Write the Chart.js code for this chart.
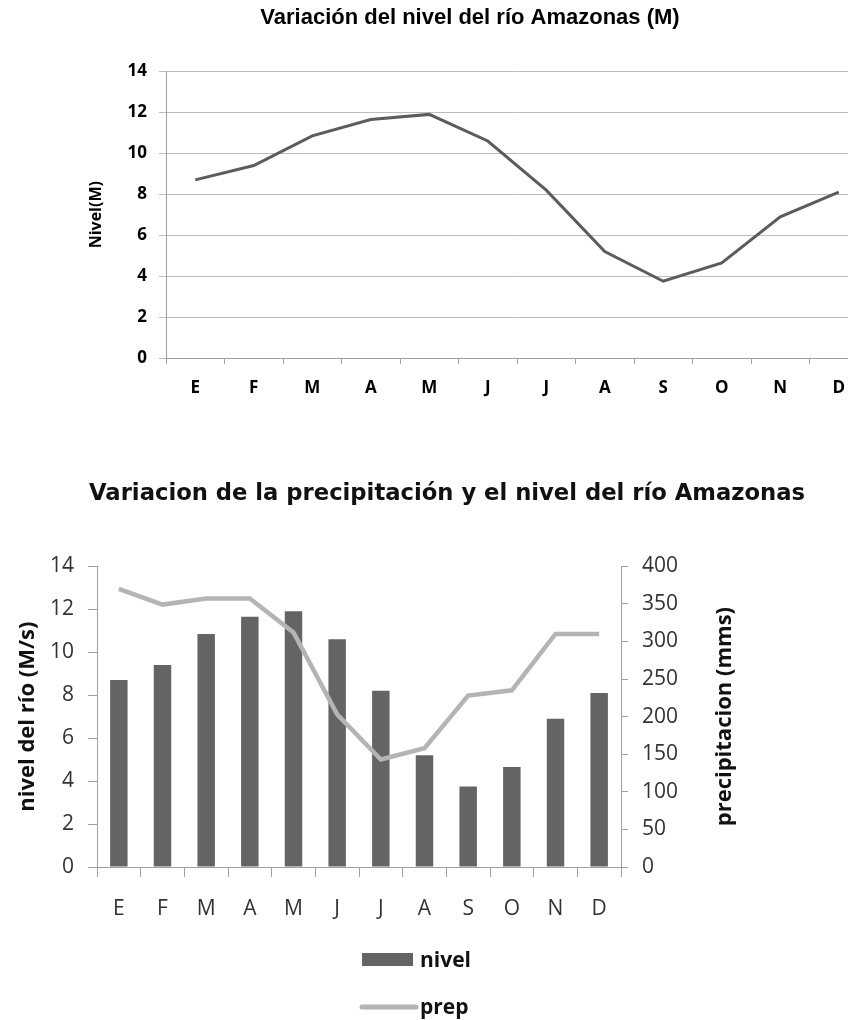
<!DOCTYPE html>
<html>
<head>
<meta charset="utf-8">
<script src="https://cdn.jsdelivr.net/npm/chart.js@4/dist/chart.umd.min.js"></script>
<style>
  html, body { margin: 0; padding: 0; background: #fff; overflow: hidden; }
  #page { position: relative; width: 848px; height: 1020px; overflow: hidden; }
  #nivelChart { position: absolute; left: 0; top: 0; }
  #precipChart { position: absolute; left: 0; top: 420px; }
</style>
</head>
<body>
<div id="page">
  <canvas id="nivelChart" width="940" height="420"></canvas>
  <canvas id="precipChart" width="894" height="600"></canvas>
</div>
<script>
// Months (Spanish initials)
const months = ['E', 'F', 'M', 'A', 'M', 'J', 'J', 'A', 'S', 'O', 'N', 'D'];
// River level (M)
const nivel = [8.7, 9.4, 10.85, 11.65, 11.9, 10.6, 8.2, 5.2, 3.75, 4.65, 6.9, 8.1];
// Precipitation (mms)
const prep = [370, 349, 357, 357, 312, 203, 143, 158, 228, 235, 310, 310];
// Axis tick values
const nivelTicks = [0, 2, 4, 6, 8, 10, 12, 14];
const prepTicks = [0, 50, 100, 150, 200, 250, 300, 350, 400];

const topTitle = 'Variación del nivel del río Amazonas (M)';
const bottomTitle = 'Variacion de la precipitación y el nivel del río Amazonas';

const openSans = "'Open Sans', sans-serif";
const axisGray = '#a0a0a0';

const setTicks = values => scale => {
  scale.ticks = values.map(v => ({ value: v }));
};

// Top chart: line of river level (canvas is wider than the page, the plot runs off the right edge)
new Chart(document.getElementById('nivelChart'), {
  type: 'line',
  data: {
    labels: months,
    datasets: [{
      label: 'nivel',
      data: nivel,
      borderColor: '#5c5c5c',
      borderWidth: 3,
      pointRadius: 0,
      tension: 0
    }]
  },
  options: {
    responsive: false,
    animation: false,
    layout: { padding: 0 },
    plugins: {
      legend: { display: false },
      tooltip: { enabled: false },
      title: {
        display: true,
        text: topTitle,
        color: '#000',
        font: { family: "'Liberation Sans', Arial, sans-serif", size: 22, weight: 'bold' },
        padding: { top: 5, bottom: 40 }
      }
    },
    scales: {
      x: {
        offset: true,
        grid: { offset: true, drawOnChartArea: false, tickLength: 6, color: axisGray },
        border: { color: axisGray },
        ticks: { padding: 14, color: '#000', font: { family: openSans, size: 17, weight: 'bold' } },
        afterFit: s => { s.height = 62; }
      },
      y: {
        min: 0,
        max: 14,
        afterBuildTicks: setTicks(nivelTicks),
        grid: { color: '#bdbdbd', tickLength: 7 },
        border: { color: axisGray },
        ticks: { padding: 12, color: '#000', font: { family: openSans, size: 17, weight: 'bold' } },
        title: {
          display: true,
          text: 'Nivel(M)',
          color: '#000',
          font: { family: openSans, size: 16, weight: 'bold' },
          padding: { top: 87, bottom: 0 }
        },
        afterFit: s => { s.width = 166; }
      },
      // empty spacer on the right, keeps the title centred where the original has it
      spacer: {
        position: 'right',
        ticks: { display: false },
        grid: { display: false },
        border: { display: false },
        afterFit: s => { s.width = 72; }
      }
    }
  }
});

// Right axis title (reads bottom to top) and stacked legend
const extras = {
  id: 'extras',
  afterDraw(chart) {
    const { ctx, chartArea } = chart;
    const right = chart.scales.y1;
    ctx.save();
    ctx.fillStyle = '#111';
    ctx.font = "bold 22px 'Open Sans', sans-serif";
    ctx.textAlign = 'center';
    ctx.textBaseline = 'middle';
    ctx.translate(chartArea.right + 104, (chartArea.top + chartArea.bottom) / 2);
    ctx.rotate(-Math.PI / 2);
    ctx.fillText(right.options.extraTitle, 0, 0);
    ctx.restore();

    const [barSet, lineSet] = chart.data.datasets;
    const lx = (chartArea.left + chartArea.right) / 2 + 3;
    const tx = lx + 58;
    ctx.save();
    ctx.fillStyle = barSet.backgroundColor;
    ctx.fillRect(lx, 533, 51, 13);
    ctx.strokeStyle = lineSet.borderColor;
    ctx.lineWidth = 5;
    ctx.lineCap = 'round';
    ctx.beginPath();
    ctx.moveTo(lx, 587);
    ctx.lineTo(lx + 54, 587);
    ctx.stroke();
    ctx.fillStyle = '#111';
    ctx.font = "bold 21px 'Open Sans', sans-serif";
    ctx.textAlign = 'left';
    ctx.textBaseline = 'alphabetic';
    ctx.fillText(barSet.label, tx, 547);
    ctx.fillText(lineSet.label, tx, 594);
    ctx.restore();
  }
};

// Bottom chart: bars of level + line of precipitation
new Chart(document.getElementById('precipChart'), {
  type: 'bar',
  data: {
    labels: months,
    datasets: [
      {
        type: 'bar',
        label: 'nivel',
        data: nivel,
        backgroundColor: '#646464',
        yAxisID: 'y',
        order: 1,
        categoryPercentage: 0.8,
        barPercentage: 0.5
      },
      {
        type: 'line',
        label: 'prep',
        data: prep,
        borderColor: '#b4b4b4',
        borderWidth: 4.5,
        pointRadius: 0,
        tension: 0,
        yAxisID: 'y1',
        order: 0
      }
    ]
  },
  options: {
    responsive: false,
    animation: false,
    layout: { padding: 0 },
    plugins: {
      legend: { display: false },
      tooltip: { enabled: false },
      title: {
        display: true,
        text: bottomTitle,
        color: '#111',
        font: { family: "'DejaVu Sans', sans-serif", size: 22.7, weight: 'bold' },
        padding: { top: 60, bottom: 59 }
      }
    },
    scales: {
      x: {
        grid: { offset: true, drawOnChartArea: false, tickLength: 10, color: axisGray },
        border: { color: axisGray },
        ticks: { padding: 19, color: '#333', font: { family: openSans, size: 21 } },
        afterFit: s => { s.height = 153; }
      },
      y: {
        position: 'left',
        min: 0,
        max: 14,
        afterBuildTicks: setTicks(nivelTicks),
        grid: { drawOnChartArea: false, tickLength: 9, color: axisGray },
        border: { color: axisGray },
        ticks: { padding: 14, color: '#333', font: { family: openSans, size: 21 } },
        title: {
          display: true,
          text: 'nivel del río (M/s)',
          color: '#111',
          font: { family: openSans, size: 22, weight: 'bold' },
          padding: { top: 15, bottom: 0 }
        },
        afterFit: s => { s.width = 97; }
      },
      y1: {
        position: 'right',
        min: 0,
        max: 400,
        extraTitle: 'precipitacion (mms)',
        afterBuildTicks: setTicks(prepTicks),
        grid: { drawOnChartArea: false, tickLength: 7, color: axisGray },
        border: { color: axisGray },
        ticks: { padding: 14, color: '#333', font: { family: openSans, size: 21 } },
        afterFit: s => { s.width = 273; }
      }
    }
  },
  plugins: [extras]
});
</script>
</body>
</html>
